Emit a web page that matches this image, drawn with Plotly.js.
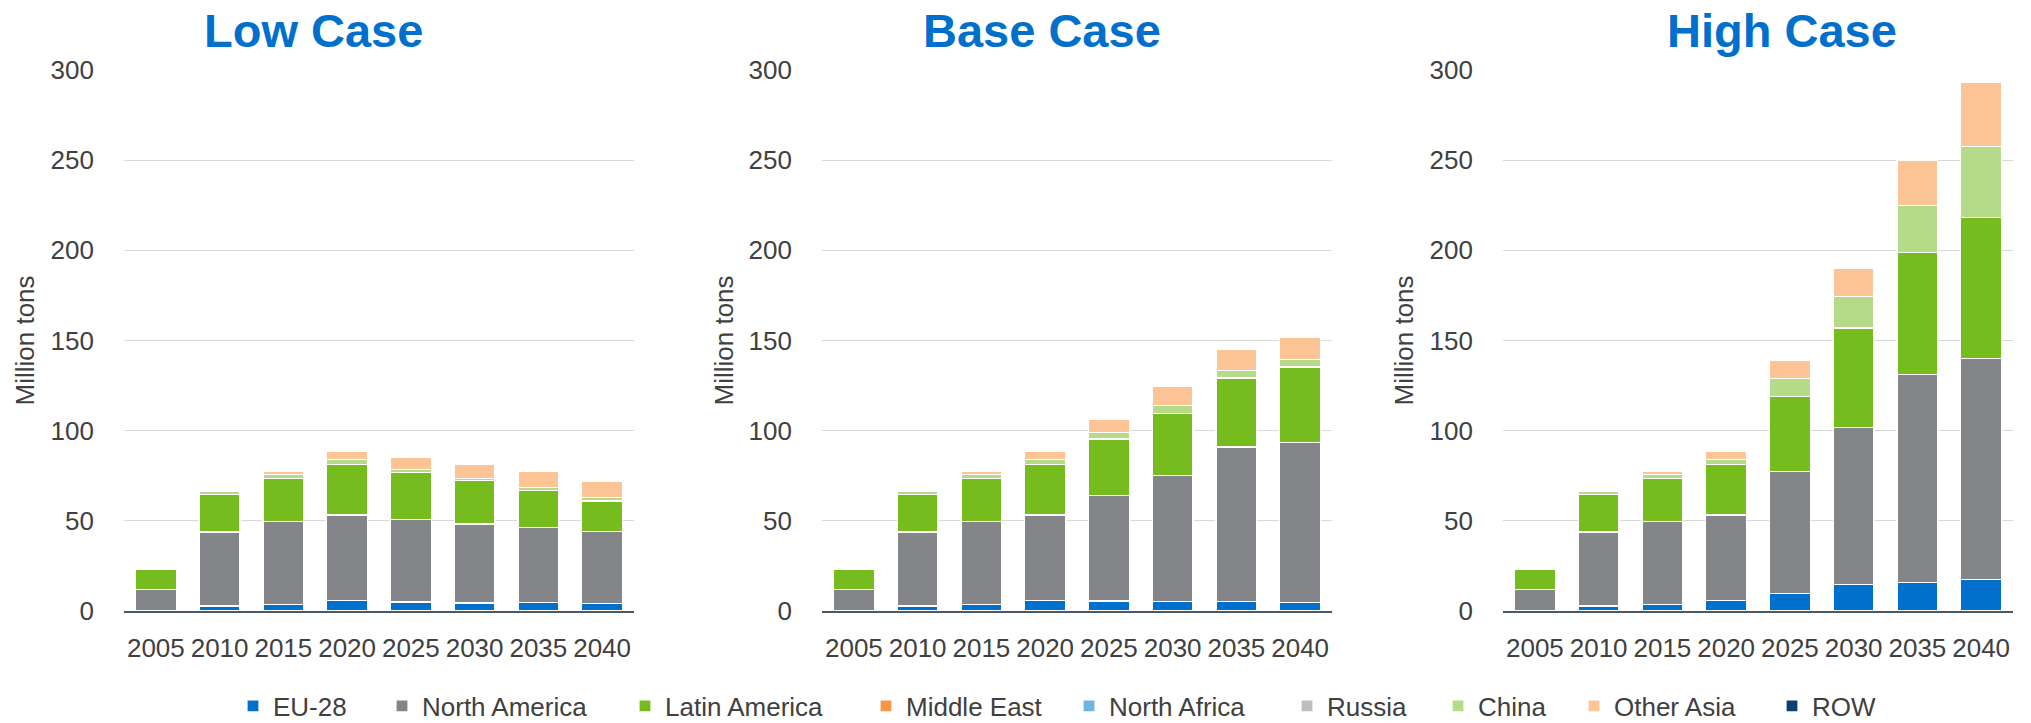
<!DOCTYPE html>
<html>
<head>
<meta charset="utf-8">
<script src="https://cdn.plot.ly/plotly-3.0.1.min.js"></script>
<style>html,body{margin:0;padding:0;background:#fff;}#chart{width:2031px;height:723px;}</style>
</head>
<body>
<div id="chart"></div>
<script>
// ---- data ----
const years = ['2005','2010','2015','2020','2025','2030','2035','2040'];
const cases = ['Low Case','Base Case','High Case'];
const regions = ['EU-28','North America','Latin America','Middle East','North Africa','Russia','China','Other Asia','ROW'];
const colors = ['#0070CC','#848589','#77BC1F','#F79646','#6FB2E4','#BFBFBF','#B5DA88','#FDC596','#0B4170'];

// Low Case (million tons)
const lowEU    = [0, 2.8, 3.7, 5.7, 5.0, 4.4, 4.6, 4.2];
const lowNA    = [12.0, 41.0, 46.0, 47.5, 45.8, 43.8, 41.6, 39.8];
const lowLA    = [11.2, 20.7, 23.8, 28.0, 26.2, 24.2, 20.5, 17.0];
const lowME    = [0, 0, 0, 0, 0, 0, 0, 0];
const lowNAf   = [0, 0, 0, 0, 0, 0, 0, 0];
const lowRU    = [0, 0, 0, 0, 0, 0, 0, 0];
const lowCN    = [0, 1.7, 2.2, 2.8, 1.5, 1.0, 1.9, 2.0];
const lowOA    = [0, 0, 1.7, 4.3, 6.5, 7.9, 8.6, 8.7];
const lowROW   = [0, 0, 0, 0, 0, 0, 0, 0];

// Base Case
const baseEU   = [0, 2.8, 3.7, 5.7, 5.5, 5.4, 5.2, 4.8];
const baseNA   = [12.0, 41.0, 46.0, 47.5, 58.6, 69.8, 85.7, 88.5];
const baseLA   = [11.2, 20.7, 23.8, 28.0, 31.3, 34.4, 38.3, 42.0];
const baseME   = [0, 0, 0, 0, 0, 0, 0, 0];
const baseNAf  = [0, 0, 0, 0, 0, 0, 0, 0];
const baseRU   = [0, 0, 0, 0, 0, 0, 0, 0];
const baseCN   = [0, 1.7, 2.2, 2.8, 3.7, 4.4, 4.2, 4.2];
const baseOA   = [0, 0, 1.7, 4.3, 7.2, 10.6, 11.7, 12.0];
const baseROW  = [0, 0, 0, 0, 0, 0, 0, 0];

// High Case
const highEU   = [0, 2.8, 3.7, 5.7, 9.9, 14.5, 15.9, 17.3];
const highNA   = [12.0, 41.0, 46.0, 47.5, 67.6, 87.2, 115.2, 122.7];
const highLA   = [11.2, 20.7, 23.8, 28.0, 41.3, 55.2, 67.7, 78.1];
const highME   = [0, 0, 0, 0, 0, 0, 0, 0];
const highNAf  = [0, 0, 0, 0, 0, 0, 0, 0];
const highRU   = [0, 0, 0, 0, 0, 0, 0, 0];
const highCN   = [0, 1.7, 2.2, 2.8, 10.3, 17.3, 26.1, 39.7];
const highOA   = [0, 0, 1.7, 4.3, 9.8, 15.7, 24.8, 35.2];
const highROW  = [0, 0, 0, 0, 0, 0, 0, 0];

const yTicks = [0, 50, 100, 150, 200, 250, 300];
const yTitle = 'Million tons';

const caseSeries = [
  [lowEU, lowNA, lowLA, lowME, lowNAf, lowRU, lowCN, lowOA, lowROW],
  [baseEU, baseNA, baseLA, baseME, baseNAf, baseRU, baseCN, baseOA, baseROW],
  [highEU, highNA, highLA, highME, highNAf, highRU, highCN, highOA, highROW]
];

// ---- layout geometry ----
const W = 2031, H = 723;
const mT = 70, mB = 112;
const PH = H - mT - mB;
const panels = [[124, 634], [822, 1332], [1503, 2013]];
const titleCx = [313.6, 1041.6, 1782];
const yTitleCx = [24, 723, 1403];
const legendX = [251, 400, 643, 884, 1087, 1305, 1456, 1592, 1790];

const fam = '"Liberation Sans", Arial, sans-serif';
const fs = 26;
const txtCol = '#404040';

const traces = [];
caseSeries.forEach((series, ci) => {
  const ax = ci === 0 ? '' : String(ci + 1);
  series.forEach((vals, ri) => {
    traces.push({
      type: 'bar', x: years, y: vals, name: regions[ri],
      xaxis: 'x' + ax, yaxis: 'y' + ax,
      marker: {color: colors[ri], line: {color: '#ffffff', width: 1.2}},
      showlegend: ci === 0,
      legend: ri === 0 ? 'legend' : 'legend' + (ri + 1),
      hoverinfo: 'skip'
    });
  });
});

const layout = {
  width: W, height: H,
  margin: {l: 0, r: 0, t: mT, b: mB, pad: 0, autoexpand: false},
  paper_bgcolor: '#ffffff', plot_bgcolor: '#ffffff',
  barmode: 'stack', bargap: 0.36,
  font: {family: fam, size: fs, color: txtCol},
  annotations: [],
  shapes: []
};

panels.forEach((p, i) => {
  const ax = i === 0 ? '' : String(i + 1);
  layout['xaxis' + ax] = {
    domain: [p[0] / W, p[1] / W], type: 'category', anchor: 'y' + ax,
    showgrid: false, zeroline: false, showline: true, linecolor: '#4A5868', linewidth: 2,
    ticks: '', ticklabelstandoff: 13, tickangle: 0, automargin: false,
    tickfont: {family: fam, size: fs, color: txtCol}, fixedrange: true
  };
  layout['yaxis' + ax] = {
    domain: [0, 1], anchor: 'x' + ax, range: [0, 300],
    tickvals: yTicks, ticktext: yTicks.map(String), automargin: false,
    showgrid: true, gridcolor: '#D9D9D9', gridwidth: 1.3,
    zeroline: false, showline: false, ticks: '', ticklabelstandoff: 29,
    tickfont: {family: fam, size: fs, color: txtCol}, fixedrange: true
  };
  layout.annotations.push({
    xref: 'paper', yref: 'paper', x: titleCx[i] / W, y: 1 + (mT - 30.5) / PH,
    xanchor: 'center', yanchor: 'middle', showarrow: false,
    text: '<b>' + cases[i] + '</b>',
    font: {family: fam, size: 47, color: '#0070CC'}
  });
  layout.annotations.push({
    xref: 'paper', yref: 'paper', x: yTitleCx[i] / W, y: 0.5,
    xanchor: 'center', yanchor: 'middle', showarrow: false, textangle: -90,
    text: yTitle, font: {family: fam, size: fs, color: txtCol}
  });
});

regions.forEach((r, i) => {
  const key = i === 0 ? 'legend' : 'legend' + (i + 1);
  layout[key] = {
    orientation: 'h', x: (legendX[i] - 18) / W, xanchor: 'left',
    y: -(706 - (H - mB)) / PH, yanchor: 'middle',
    bgcolor: 'rgba(0,0,0,0)', borderwidth: 0,
    font: {family: fam, size: fs, color: txtCol},
    itemclick: false, itemdoubleclick: false
  };
});

Plotly.newPlot('chart', traces, layout, {displayModeBar: false, staticPlot: true});
</script>
</body>
</html>
